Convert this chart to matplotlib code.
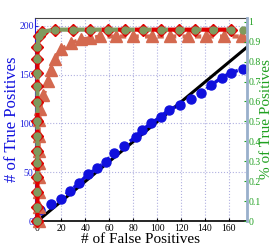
import matplotlib
matplotlib.use("Agg")
import matplotlib.pyplot as plt

# diamonds (red) series
dia_x = [0, 0, 0, 0, 0, 0, 0, 0, 0, 0, 0, 0, 0, 1, 4, 15, 30, 44, 59, 73, 88, 103, 118, 132, 147, 162]
dia_y = [0, 14, 30, 45, 60, 72, 87, 102, 122, 138, 152, 166, 178, 189, 194, 196, 196, 196, 196, 196, 196, 196, 196, 196, 196, 196]
# olive circles series
cir_x = [0, 0, 0, 0, 0, 0, 0, 0, 0, 0, 0, 0, 0, 1, 4, 15, 30, 44, 59, 73, 88, 103, 118, 132, 147, 162, 172]
cir_y = [0, 14, 30, 45, 60, 72, 87, 102, 122, 138, 152, 166, 178, 189, 194, 196, 196, 196, 196, 196, 196, 196, 196, 196, 196, 196, 196]
# triangles series
tri_x = [1, 1, 1, 1, 1, 1, 1, 1, 2, 5, 9, 11, 15, 20, 28, 36, 44, 52, 66, 80, 96, 111, 126, 141, 156, 171]
tri_y = [0, 14, 30, 45, 59, 72, 87, 103, 115, 129, 143, 155, 166, 176, 182, 186, 187, 189, 189, 189, 189, 189, 189, 189, 189, 189]
# blue dots series
blu_x = [0, 2.5, 11, 20, 27, 35, 42, 50, 57, 64, 72, 82, 87, 95, 103, 110, 119, 128, 137, 145, 154, 162, 172]
blu_y = [0, 11.5, 18, 23, 31, 39, 48, 54, 61, 70, 77, 86, 93, 100, 107, 114, 119, 125, 131, 139, 147, 152, 156]
# diagonal reference line
ref_x = [0, 175]
ref_y = [0, 178]

xticks = [0, 20, 40, 60, 80, 100, 120, 140, 160]
yticks_left = [0, 50, 100, 150, 200]
yticks_right = [0, 0.1, 0.2, 0.3, 0.4, 0.5, 0.6, 0.7, 0.8, 0.9, 1.0]
yticklabels_right = ["0", "0.1", "0.2", "0.3", "0.4", "0.5", "0.6", "0.7", "0.8", "0.9", "1"]

plt.rcParams['font.family'] = ['Liberation Serif', 'DejaVu Serif']

fig = plt.figure(figsize=(2.74, 2.49), dpi=100)
ax = fig.add_axes([0.128, 0.112, 0.773, 0.816])

ax.plot(ref_x, ref_y, color='black', lw=2.2, zorder=3)
ax.plot(blu_x, blu_y, linestyle=(0, (1.5, 1.5)), color='#1010DD', lw=2.5,
        marker='o', ms=6.5, mfc='#1010DD', mec='#1010DD', zorder=4, clip_on=False)
ax.plot(tri_x, tri_y, linestyle=(0, (1.5, 1.5)), color='#D4694F', lw=3,
        marker='^', ms=9, mfc='#D4694F', mec='#D4694F', zorder=5, clip_on=False)
ax.plot(dia_x, dia_y, linestyle=(0, (2, 2)), color='#E00000', lw=3,
        marker='D', ms=6.5, mfc='#E00000', mec='#E00000', zorder=6, clip_on=False)
ax.plot(cir_x, cir_y, linestyle=(2, (2, 2)), color='#7F9A5E', lw=3,
        marker='o', ms=5, mfc='#7F9A5E', mec='#7F9A5E', zorder=7, clip_on=False)

ax.set_xlim(-2, 175)
ax.set_ylim(0, 208)
ax.set_xticks(xticks)
ax.set_yticks(yticks_left)
ax.grid(True, linestyle=':', color='#B0B0E0', lw=0.8)
ax.tick_params(axis='x', labelsize=7, colors='black', length=2, direction='in', pad=2)
ax.tick_params(axis='y', labelsize=7, colors='#2020DD', length=2, direction='in', pad=1)
ax.set_xlabel('# of False Positives', fontsize=11, color='black', labelpad=0)
ax.set_ylabel('# of True Positives', fontsize=12, color='#1010DD')
ax.yaxis.set_label_coords(-0.073, 0.5)
ax.spines['left'].set_color('#2020DD')
ax.spines['top'].set_color('#444444')
ax.spines['bottom'].set_color('black')
ax.spines['bottom'].set_linewidth(1.2)

ax2 = ax.twinx()
ax2.set_ylim(0, 208 / 196 * 0.96)
ax2.set_yticks(yticks_right)
ax2.set_yticklabels(yticklabels_right)
ax2.tick_params(axis='y', labelsize=7, colors='#20A020', length=2, direction='in', pad=1)
ax2.set_ylabel('% of True Positives', fontsize=11, color='#20A020')
ax2.yaxis.set_label_coords(1.064, 0.5)
ax2.spines['right'].set_color('#9AB0CC')
ax2.spines['right'].set_linewidth(2)
for s in ['left', 'top', 'bottom']:
    ax2.spines[s].set_visible(False)

fig.savefig('out.png', dpi=100)
